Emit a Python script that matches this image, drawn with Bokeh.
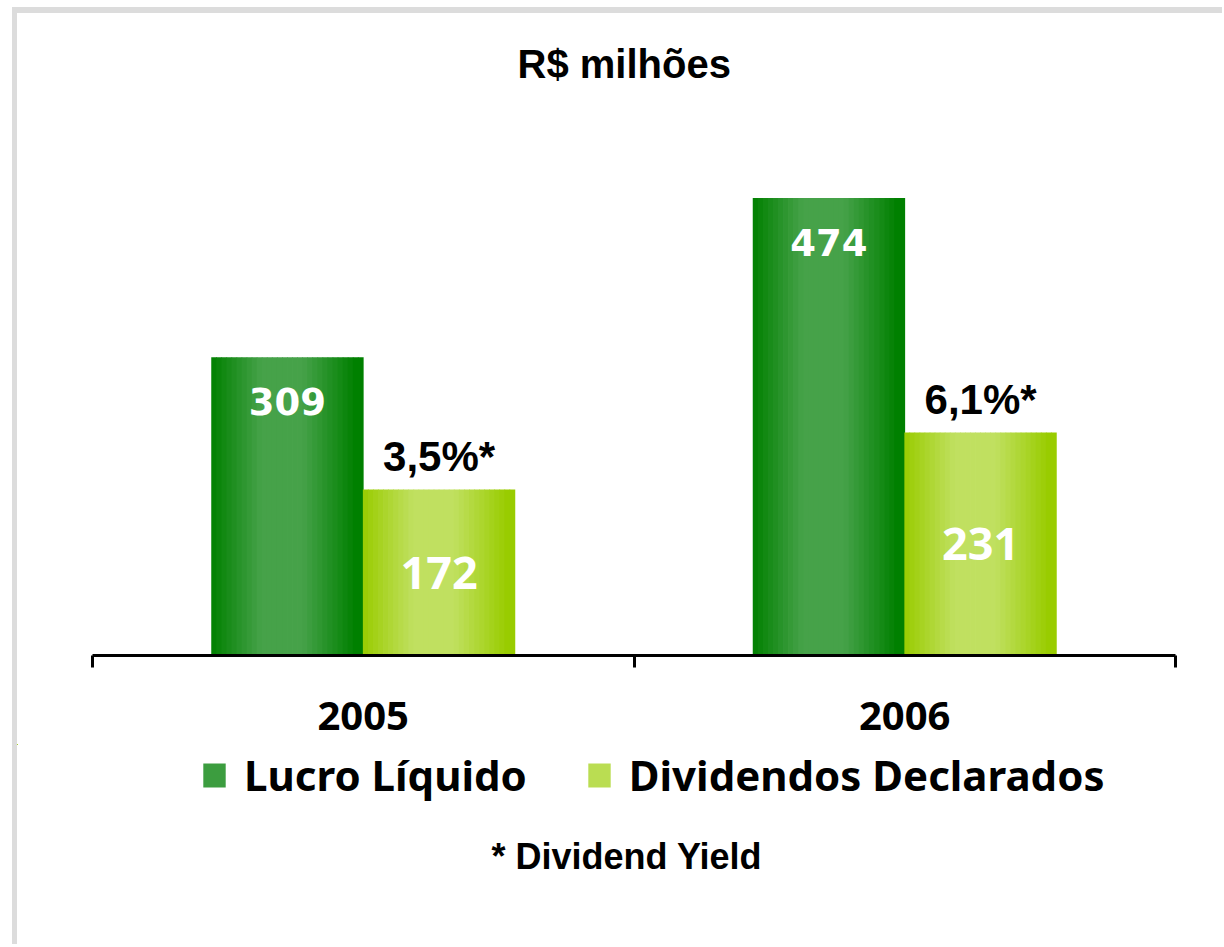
from bokeh.plotting import figure
from bokeh.layouts import column
from bokeh.models import (Range1d, LinearAxis, FixedTicker, ColumnDataSource,
                          Legend, LegendItem, Title, Label)
from bokeh.core.properties import value
from bokeh.embed import file_html
from bokeh.resources import INLINE

# ---------------- data ----------------
years = ["2005", "2006"]
lucro = [309, 474]
dividendos = [172, 231]
yield_labels = ["3,5%*", "6,1%*"]
series_names = ["Lucro Líquido", "Dividendos Declarados"]
footnote = "* Dividend Yield"
chart_title = "R$ milhões"

# ---------------- layout constants ----------------
W = 1205
H1 = 731              # chart figure height
H2 = 200              # legend / footnote figure height
PX_X = 541.5          # px per category
X0 = 75               # canvas px of the axis start
FRAME_TOP = 90
FRAME_BOTTOM = 642
PX_Y = 0.965          # px per R$ million
BAR_W = 0.28
N_STRIPES = 30

x_range = Range1d(-X0 / PX_X, (W - X0) / PX_X)
y_range = Range1d(0, (FRAME_BOTTOM - FRAME_TOP) / PX_Y)

p = figure(width=W, height=H1, x_range=x_range, y_range=y_range,
           output_backend="svg", toolbar_location=None,
           x_axis_location=None, y_axis_location=None,
           min_border_left=0, min_border_right=0,
           min_border_top=FRAME_TOP, min_border_bottom=H1 - FRAME_BOTTOM,
           outline_line_color=None, background_fill_color="white",
           border_fill_color="white")
p.grid.visible = False


def profile(t):
    pts = [(0.0, 0.0), (0.33, 1.0), (0.6, 1.0), (0.95, 0.0), (1.0, 0.0)]
    for (t0, f0), (t1, f1) in zip(pts[:-1], pts[1:]):
        if t0 <= t <= t1:
            return f0 + (f1 - f0) * (t - t0) / (t1 - t0)
    return 0.0


def mix(dark, light, f):
    c = [round(d + (l - d) * f) for d, l in zip(dark, light)]
    return "#%02x%02x%02x" % tuple(c)


def stripes(values, offset, dark, light):
    xs, tops, cols = [], [], []
    for i, v in enumerate(values):
        center = i + 0.5 + offset
        for k in range(N_STRIPES):
            t = (k + 0.5) / N_STRIPES
            xs.append(center - BAR_W / 2 + t * BAR_W)
            tops.append(v)
            cols.append(mix(dark, light, profile(t)))
    return ColumnDataSource(dict(x=xs, top=tops, color=cols))


src_l = stripes(lucro, -BAR_W / 2, (0, 128, 0), (70, 162, 73))
src_d = stripes(dividendos, BAR_W / 2, (153, 204, 0), (192, 224, 96))
sw = BAR_W / N_STRIPES * 1.15
p.vbar(x="x", top="top", bottom=0, width=sw, source=src_l,
       fill_color="color", line_color=None)
p.vbar(x="x", top="top", bottom=0, width=sw, source=src_d,
       fill_color="color", line_color=None)

# value labels
cx_l = [i + 0.5 - BAR_W / 2 for i in range(len(years))]
cx_d = [i + 0.5 + BAR_W / 2 for i in range(len(years))]
p.text(x=cx_l, y=lucro, text=[str(v) for v in lucro], text_align="center",
       text_baseline="top", y_offset=31, text_color="white",
       text_font=value("DejaVu Sans"), text_font_style="bold",
       text_font_size="37px")
p.text(x=cx_d, y=[v / 2 for v in dividendos], text=[str(v) for v in dividendos],
       text_align="center", text_baseline="middle", y_offset=0,
       text_color="white", text_font=value("Noto Sans"),
       text_font_style="bold", text_font_size="45px")
p.text(x=cx_d, y=dividendos, text=yield_labels, text_align="center",
       text_baseline="bottom", y_offset=-10, text_color="black",
       text_font=value("Liberation Sans"), text_font_style="bold",
       text_font_size="42px")

# x axis: labels at category centres, ticks at category boundaries
xaxis = LinearAxis(
    ticker=FixedTicker(ticks=[i + 0.5 for i in range(len(years))],
                       minor_ticks=[i for i in range(len(years) + 1)]),
    bounds=(0, len(years)),
    major_label_overrides={i + 0.5: y for i, y in enumerate(years)},
    axis_line_width=3, axis_line_color="black",
    major_tick_out=0, major_tick_in=0,
    minor_tick_out=12, minor_tick_in=0, minor_tick_line_width=3,
    minor_tick_line_color="black",
    major_label_standoff=34,
    major_label_text_font="Noto Sans", major_label_text_font_style="bold",
    major_label_text_font_size="40px", major_label_text_color="black")
p.add_layout(xaxis, "below")

p.title = Title(text=chart_title, align="left", offset=500,
                text_font="Liberation Sans", text_font_size="40px",
                text_font_style="bold", text_color="black", standoff=35)

# ---------------- legend + footnote figure ----------------
q = figure(width=W, height=H2, x_range=Range1d(100, 101),
           y_range=Range1d(-2, -1),
           output_backend="svg", toolbar_location=None,
           x_axis_location=None, y_axis_location=None,
           min_border=0, outline_line_color=None,
           background_fill_color="white", border_fill_color="white")
q.grid.visible = False
# same data, outside the visible window: only their legend swatches show
q_l = q.vbar(x="x", top="top", bottom=0, width=sw, source=src_l,
             fill_color="color", line_color=None)
q_d = q.vbar(x="x", top="top", bottom=0, width=sw, source=src_d,
             fill_color="color", line_color=None)

legend = Legend(
    items=[LegendItem(label=series_names[0], renderers=[q_l], index=8),
           LegendItem(label=series_names[1], renderers=[q_d], index=8)],
    orientation="horizontal", location=(183, 141),
    glyph_width=28, glyph_height=30, label_standoff=16, spacing=58,
    padding=0, margin=0, border_line_color=None, background_fill_alpha=0,
    label_text_font="Noto Sans", label_text_font_size="42px",
    label_text_font_style="bold", label_text_color="black")
q.add_layout(legend, "center")

q.add_layout(Label(x=474, y=88, x_units="screen", y_units="screen",
                   text=footnote, text_align="left",
                   text_baseline="alphabetic", text_color="black",
                   text_font="Liberation Sans", text_font_style="bold",
                   text_font_size="36px"))

layout = column(p, q, spacing=0,
                styles={"border-top": "6px solid #dcdcdc",
                        "border-left": "5px solid #dcdcdc",
                        "margin-left": "12px", "margin-top": "7px"})

open("out.html", "w").write(file_html(layout, INLINE))
